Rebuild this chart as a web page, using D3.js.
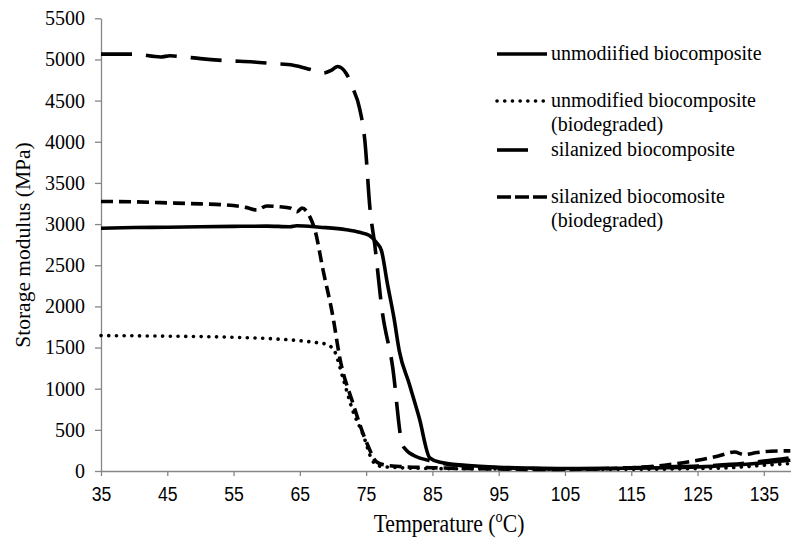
<!DOCTYPE html>
<html lang="en">
    <head>
        <meta charset="UTF-8" />
        <title>Storage modulus vs temperature</title>
        <style>
            body { margin: 0; background: #fff; }
            svg { display: block; }
        </style>
    </head>
    <body>
        <div id="stage"></div>
        <script src="https://cdn.jsdelivr.net/npm/d3@7"></script>
        <script>
            // data
            const xTicks = [35, 45, 55, 65, 75, 85, 95, 105, 115, 125, 135];
            const yTicks = [0, 500, 1000, 1500, 2000, 2500, 3000, 3500, 4000, 4500, 5000, 5500];

            // unmodified biocomposite (solid)
            const unmodT = [35, 40, 45, 50, 55, 60, 63.5, 64.5, 68, 72, 74, 75.5, 76.5, 77.3, 78.2, 79.2, 80, 81.5, 83, 84.6, 86, 90, 95, 100, 105, 110, 115, 120, 125, 130, 135, 139];
            const unmodV = [2950, 2958, 2962, 2968, 2972, 2975, 2968, 2980, 2962, 2932, 2900, 2860, 2780, 2680, 2280, 1860, 1460, 1060, 650, 160, 110, 70, 45, 35, 30, 30, 35, 40, 50, 70, 100, 130];

            // unmodified biocomposite, biodegraded (dotted)
            const unmodBioT = [35, 45, 55, 60, 64, 67, 69, 70.2, 71.5, 73, 74.5, 76, 77, 80, 85, 95, 105, 115, 125, 130, 135, 139];
            const unmodBioV = [1645, 1638, 1625, 1610, 1590, 1565, 1540, 1460, 1130, 730, 450, 120, 60, 40, 30, 25, 20, 20, 30, 40, 70, 90];

            // silanized biocomposite (long dash)
            const silT = [35, 40, 44, 45.4, 47, 50, 54, 58, 61, 64, 66.5, 68.5, 69.8, 70.7, 72, 73, 74, 74.8, 75.6, 76.3, 77.4, 79, 80.4, 80.9, 82.7, 85, 87, 90, 95, 100, 105, 110, 115, 120, 125, 130, 135, 139];
            const silV = [5065, 5065, 5030, 5045, 5035, 5010, 4985, 4970, 4950, 4930, 4880, 4835, 4870, 4915, 4830, 4650, 4410, 4020, 3170, 2750, 1956, 1264, 340, 267, 170, 120, 85, 60, 40, 30, 25, 30, 40, 50, 60, 80, 120, 160];

            // silanized biocomosite, biodegraded (short dash)
            const silBioT = [35, 40, 44, 50, 54, 57, 58.5, 60, 62, 63.5, 64.6, 65.3, 66.5, 67.3, 68.5, 70, 71, 73, 75.1, 76.6, 78, 80, 85, 90, 95, 100, 105, 110, 115, 120, 125, 128, 130.6, 132, 134, 136, 139];
            const silBioV = [3275, 3270, 3260, 3245, 3232, 3200, 3171, 3220, 3210, 3195, 3150, 3195, 3090, 2920, 2442, 1871, 1385, 826, 340, 110, 70, 55, 40, 30, 25, 20, 20, 25, 40, 70, 130, 180, 230, 200, 225, 240, 245];

            const seriesNames = [
                ['unmodiified biocomposite'],
                ['unmodified biocomposite', '(biodegraded)'],
                ['silanized biocomposite'],
                ['silanized biocomosite', '(biodegraded)']
            ];

            const SERIF = '"Liberation Serif", "Times New Roman", Times, serif';
            const SANS = '"Liberation Sans", Arial, sans-serif';

            const width = 791, height = 538;
            const svg = d3.select('#stage').append('svg')
                .attr('width', width)
                .attr('height', height);

            const x = d3.scaleLinear().domain([35, 139.1]).range([101, 791]);
            const y = d3.scaleLinear().domain([0, 5500]).range([471, 18.3]);

            // y axis
            const yAxis = svg.append('g')
                .attr('transform', `translate(${x(35)},0)`)
                .call(d3.axisLeft(y).tickValues(yTicks).tickFormat(d3.format('d'))
                    .tickSize(6).tickSizeOuter(0).tickPadding(10));
            yAxis.selectAll('text')
                .style('font-family', SERIF)
                .style('font-size', '20px')
                .attr('fill', '#000');

            // x axis (labels look horizontally squeezed in the original)
            const xAxis = svg.append('g')
                .attr('transform', `translate(0,${y(0)})`)
                .call(d3.axisBottom(x).tickValues(xTicks).tickFormat(d3.format('d'))
                    .tickSize(5).tickSizeOuter(0).tickPadding(10));
            xAxis.selectAll('text')
                .style('font-family', SANS)
                .style('font-size', '21px')
                .attr('transform', 'scale(0.84,1)')
                .attr('fill', '#000');

            svg.selectAll('.domain, .tick line').attr('stroke', '#868686').attr('stroke-width', 1.3);

            // axis titles
            svg.append('text')
                .style('font-family', SERIF)
                .style('font-size', '21.5px')
                .attr('text-anchor', 'middle')
                .attr('transform', 'translate(30,245) rotate(-90)')
                .text('Storage modulus (MPa)');

            const xt = svg.append('text')
                .style('font-family', SERIF)
                .style('font-size', '26px')
                .attr('text-anchor', 'middle')
                .attr('transform', 'translate(449,532) scale(0.835,1)');
            xt.append('tspan').text('Temperature (');
            xt.append('tspan').style('font-size', '17px').attr('dy', -10).text('o');
            xt.append('tspan').attr('dy', 10).text('C)');

            // series
            const styles = [
                { dash: null, cap: 'butt' },
                { dash: '0.1,7.6', cap: 'round' },
                { dash: '31,14', cap: 'butt' },
                { dash: '12,6', cap: 'butt' }
            ];
            const series = [
                d3.zip(unmodT, unmodV),
                d3.zip(unmodBioT, unmodBioV),
                d3.zip(silT, silV),
                d3.zip(silBioT, silBioV)
            ];

            const line = d3.line()
                .x(d => x(d[0]))
                .y(d => y(d[1]))
                .curve(d3.curveMonotoneX);

            svg.append('g').selectAll('path')
                .data(series)
                .join('path')
                .attr('d', line)
                .attr('fill', 'none')
                .attr('stroke', '#000')
                .attr('stroke-width', 3.6)
                .attr('stroke-linecap', (d, i) => styles[i].cap)
                .attr('stroke-linejoin', 'round')
                .attr('stroke-dasharray', (d, i) => styles[i].dash);

            // legend
            const legendRows = [54, 101, 150, 197];
            const legendLen = [50, 50, 35, 50];
            const legend = svg.append('g');
            seriesNames.forEach((names, i) => {
                legend.append('line')
                    .attr('x1', 497).attr('x2', 497 + legendLen[i])
                    .attr('y1', legendRows[i]).attr('y2', legendRows[i])
                    .attr('stroke', '#000')
                    .attr('stroke-width', 3.6)
                    .attr('stroke-linecap', styles[i].cap)
                    .attr('stroke-dasharray', i === 3 ? '14,4' : styles[i].dash);
                names.forEach((t, k) => {
                    legend.append('text')
                        .style('font-family', SERIF)
                        .style('font-size', '20px')
                        .attr('x', 551)
                        .attr('y', legendRows[i] + 6 + k * 24)
                        .text(t);
                });
            });
        </script>
    </body>
</html>
